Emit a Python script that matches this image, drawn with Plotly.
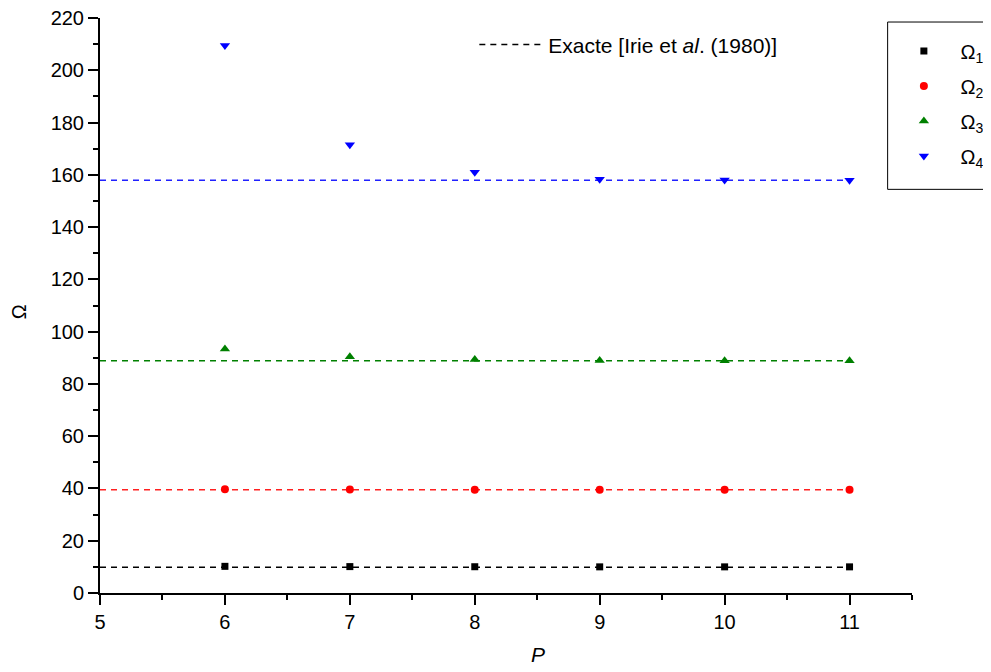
import plotly.graph_objects as go

P = [6, 7, 8, 9, 10, 11]
omega1 = [10.2, 10.1, 10.05, 10.0, 10.0, 10.0]
omega2 = [39.7, 39.6, 39.55, 39.5, 39.5, 39.5]
omega3 = [93.4, 90.4, 89.3, 89.0, 88.9, 88.85]
omega4 = [209.5, 171.5, 161.0, 158.3, 158.0, 157.95]

exact_x = [5, 11]
exact_vals = [9.87, 39.48, 88.83, 157.91]

nb = "\u00a0" * 3
series_names = [nb + "Ω<sub>1</sub>", nb + "Ω<sub>2</sub>", nb + "Ω<sub>3</sub>", nb + "Ω<sub>4</sub>"]
colors = ["#000000", "#FF0000", "#008000", "#0000FF"]
line_colors = ["#000000", "#FF2020", "#008000", "#2020FF"]
symbols = ["square", "circle", "triangle-up", "triangle-down"]
sizes = [7, 8, 9, 9]

fig = go.Figure()

# exact reference lines
for i, v in enumerate(exact_vals):
    fig.add_trace(go.Scatter(
        x=exact_x, y=[v, v], mode="lines",
        line=dict(color=line_colors[i], width=1.5, dash="6px,5px"),
        name="Exacte [Irie et <i>al</i>. (1980)]",
        showlegend=(i == 0), legend="legend2", hoverinfo="skip"))

for i, ys in enumerate([omega1, omega2, omega3, omega4]):
    fig.add_trace(go.Scatter(
        x=P, y=ys, mode="markers", name=series_names[i],
        legendgroup=f"g{i}",
        marker=dict(symbol=symbols[i], color=colors[i], size=sizes[i],
                    line=dict(width=0))))

font = "Arial, Liberation Sans, sans-serif"
fig.update_layout(
    width=991, height=672,
    margin=dict(l=92, r=87, t=10, b=87, autoexpand=False),
    plot_bgcolor="white", paper_bgcolor="white",
    font=dict(family=font, size=20, color="black"),
    xaxis=dict(range=[5, 11.5], dtick=1, tick0=5, showgrid=False, zeroline=False,
               automargin=False, ticklabeloverflow="allow",
               showline=True, linecolor="black", linewidth=2,
               ticks="outside", ticklen=10, tickwidth=2, tickcolor="black",
               minor=dict(dtick=0.5, ticks="outside", ticklen=5, tickwidth=2, tickcolor="black")),
    yaxis=dict(range=[0, 220], dtick=20, showgrid=False, zeroline=False,
               automargin=False, ticklabeloverflow="allow",
               showline=True, linecolor="black", linewidth=2,
               ticks="outside", ticklen=10, tickwidth=2, tickcolor="black",
               minor=dict(dtick=10, ticks="outside", ticklen=5, tickwidth=2, tickcolor="black")),
    legend=dict(x=0.99, y=0.9765, xanchor="left", yanchor="top",
                borderwidth=0, bgcolor="rgba(0,0,0,0)",
                font=dict(size=20), tracegroupgap=6, itemwidth=30),
    legend2=dict(x=0.461, y=0.989, xanchor="left", yanchor="top",
                 bgcolor="rgba(0,0,0,0)", borderwidth=0,
                 font=dict(size=21), itemwidth=64),
    shapes=[dict(type="rect", xref="paper", yref="paper",
                 x0=0.97, x1=1.2, y0=0.702, y1=0.993,
                 line=dict(color="black", width=1), fillcolor="rgba(0,0,0,0)",
                 layer="above")],
    annotations=[
        dict(text="Ω", xref="paper", yref="paper", x=-0.0998, y=0.49,
             xanchor="center", yanchor="middle", textangle=-90, showarrow=False,
             font=dict(size=20)),
        dict(text="<i>P</i>", xref="paper", yref="paper", x=0.539, y=-0.107,
             xanchor="center", yanchor="middle", showarrow=False,
             font=dict(size=21)),
    ],
)

fig.write_html("out.html")
